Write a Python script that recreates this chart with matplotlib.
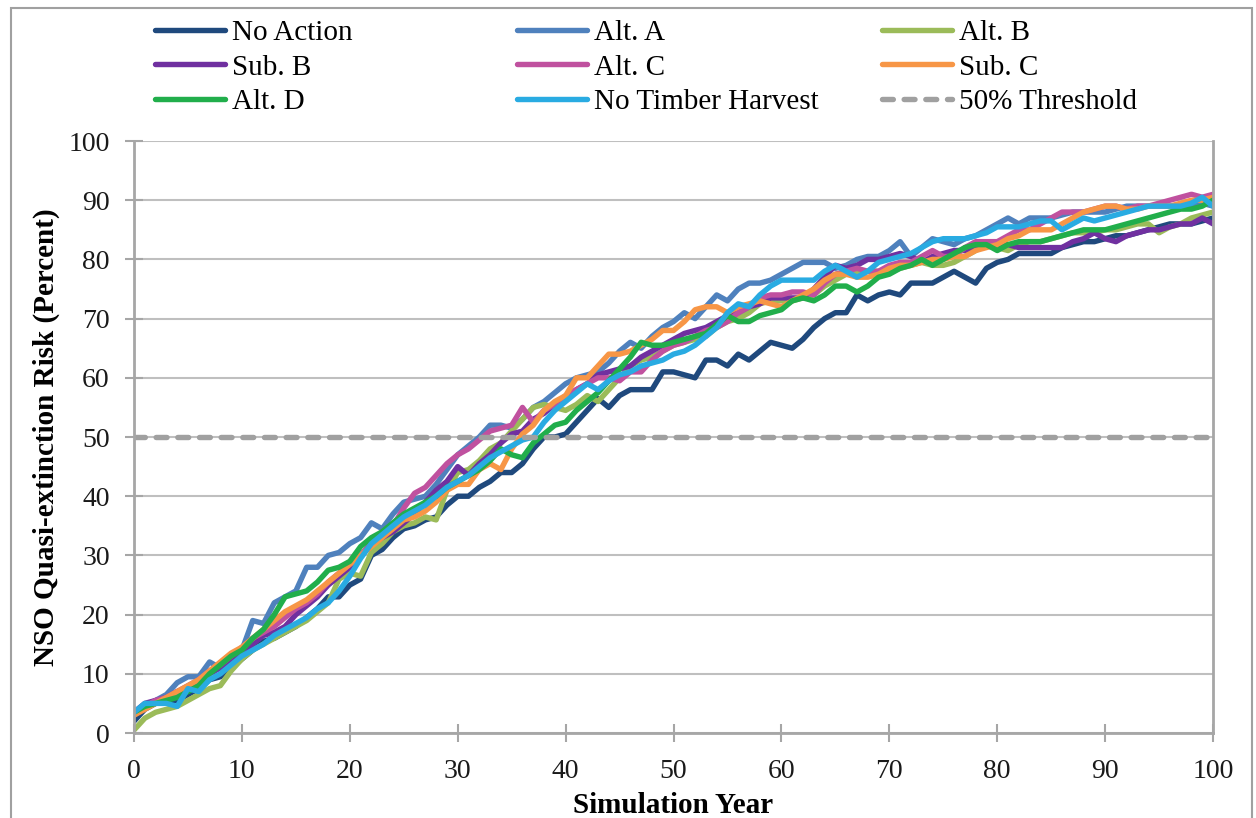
import matplotlib
matplotlib.use("Agg")
import matplotlib.pyplot as plt
from matplotlib.patches import Rectangle
import numpy as np

plt.rcParams['font.family'] = ['Liberation Serif', 'DejaVu Serif']

years = np.arange(0, 101)

no_action = [2, 4, 5, 5.5, 5.5, 6.5, 7.5, 9, 9.5, 11, 12.5, 14, 15.5, 16, 17, 18, 19.5, 21, 23, 23,
             25, 26, 30, 31, 33, 34.5, 35, 36, 36.5, 38.5, 40, 40, 41.5, 42.5, 44, 44, 45.5, 48, 50, 50,
             50.5, 52.5, 54.5, 56.5, 55, 57, 58, 58, 58, 61, 61, 60.5, 60, 63, 63, 62, 64, 63, 64.5, 66,
             65.5, 65, 66.5, 68.5, 70, 71, 71, 74, 73, 74, 74.5, 74, 76, 76, 76, 77, 78, 77, 76, 78.5,
             79.5, 80, 81, 81, 81, 81, 82, 82.5, 83, 83, 83.5, 84, 84, 84.5, 85, 85.5, 86, 86, 86, 86.5,
             87]
alt_a = [3.5, 4.5, 5.5, 6.5, 8.5, 9.5, 9.5, 12, 11, 12, 14, 19, 18.5, 22, 23, 24, 28, 28, 30, 30.5,
         32, 33, 35.5, 34.5, 37, 39, 39.5, 40, 42, 44.5, 47, 48.5, 50, 52, 52, 51.5, 53, 55, 56, 57.5,
         59, 60, 60.5, 61, 62.5, 64.5, 66, 65, 67, 68.5, 69.5, 71, 70, 72, 74, 73, 75, 76, 76, 76.5,
         77.5, 78.5, 79.5, 79.5, 79.5, 78.5, 79, 80, 80.5, 80.5, 81.5, 83, 80.5, 82, 83.5, 83, 82.5, 83.5, 84, 85,
         86, 87, 86, 87, 87, 87, 87.5, 88, 88, 88, 88, 88.5, 89, 89, 89, 89, 89, 89, 89, 89.5,
         89]
alt_b = [0.5, 2.5, 3.5, 4, 4.5, 5.5, 6.5, 7.5, 8, 10.5, 12.5, 14, 15, 16, 17, 18, 19, 20.5, 22, 26,
         27, 26.5, 30.5, 32, 34, 35, 35.5, 36.5, 36, 41, 44, 44.5, 46, 48, 49, 51, 53, 55, 55.5, 55,
         54.5, 55.5, 57, 56, 58, 60, 62, 63, 63.5, 64.5, 65.5, 66, 66.5, 67, 68.5, 69.5, 70, 71, 72.5, 73,
         73, 73, 73.5, 74, 75.5, 76.5, 77.5, 78, 78, 78, 78, 78.5, 79, 79.5, 79, 79, 79.5, 80.5, 81.5, 82.5,
         82, 81.5, 82.5, 83, 83, 83.5, 84, 84.5, 84.5, 84.5, 85, 85, 85.5, 86, 86, 84.5, 85.5, 86, 87, 87.5,
         88]
sub_b = [3.5, 5, 5.5, 6, 7, 7.5, 8.5, 10, 11, 12.5, 13.5, 15, 16.5, 17, 18, 20, 21.5, 23, 25, 26.5,
         28, 30, 32, 33, 34, 35.5, 37, 39, 41, 42.5, 45, 43.5, 45.5, 47, 49, 50.5, 51, 53, 54, 55.5,
         56.5, 58, 59, 60.5, 61, 61.5, 62, 63.5, 64.5, 65.5, 66.5, 67.5, 68, 68.5, 69.5, 70.5, 71, 72, 72.5, 73.5,
         73.5, 73.5, 73.5, 75, 77, 79, 78.5, 79, 80, 80, 80.5, 81, 80.5, 79.5, 80.5, 81, 81.5, 81.5, 82, 82.5,
         82.5, 82.5, 82, 82, 82, 82, 82, 83, 83.5, 84.5, 83.5, 83, 84, 84.5, 85, 85, 85.5, 86, 86, 87,
         86]
alt_c = [3, 4.5, 5.5, 6, 7, 8, 9, 10.5, 11.5, 13, 14.5, 16, 17, 18, 19.5, 21, 22, 23.5, 25.5, 27,
         28.5, 30, 32, 33.5, 35, 38, 40.5, 41.5, 43.5, 45.5, 47, 48, 49.5, 51, 51.5, 52, 55, 52.5, 54.5, 55.5,
         57, 58, 59, 60, 60, 59.5, 61, 61, 63, 64.5, 65.5, 66, 67, 68, 68.5, 69.5, 71, 72, 73.5, 74,
         74, 74.5, 74.5, 74, 76, 77.5, 78, 78.5, 78, 78, 79, 79.5, 79.5, 80.5, 81.5, 80.5, 80.5, 82, 83, 83,
         83, 84, 85, 85, 86, 87, 88, 88, 88, 88.5, 89, 89, 88.5, 89, 89, 89.5, 90, 90.5, 91, 90.5,
         91]
sub_c = [3, 4, 5, 6, 7, 8, 9, 10.5, 12, 13.5, 14.5, 16, 17.5, 19, 20.5, 21.5, 22.5, 24, 25.5, 27,
         28.5, 30, 31.5, 33, 34.5, 36, 36.5, 37.5, 39, 41, 42, 42, 44.5, 45.5, 44.5, 48, 50.5, 52, 54.5, 56,
         57, 60, 60, 62, 64, 64, 64.5, 65.5, 66.5, 68, 68, 69.5, 71.5, 72, 72, 71, 72, 72.5, 73, 72.5,
         72, 73, 74, 75, 76.5, 77.5, 77.5, 77, 77, 77.5, 78.5, 79, 79, 79.5, 80, 80, 80.5, 80.5, 81.5, 82,
         82.5, 83.5, 84, 85, 85, 85, 86, 87, 88, 88.5, 89, 89, 88.5, 88.5, 89, 89, 89, 89.5, 90, 90,
         90.5]
alt_d = [3.5, 4.5, 5, 5.5, 6, 7, 8, 10, 11.5, 13, 14, 16, 17.5, 20, 23, 23.5, 24, 25.5, 27.5, 28,
         29, 31.5, 33, 34, 35.5, 37, 38, 39, 40, 41.5, 42.5, 43.5, 44.5, 46, 48, 47, 46.5, 49, 50.5, 52,
         52.5, 54.5, 56, 57.5, 59.5, 61.5, 63.5, 66, 65.5, 65.5, 66, 66.5, 67, 67.5, 69, 70.5, 69.5, 69.5, 70.5, 71,
         71.5, 73, 73.5, 73, 74, 75.5, 75.5, 74.5, 75.5, 77, 77.5, 78.5, 79, 80, 79, 80, 81, 82, 82.5, 82.5,
         81.5, 82.5, 83, 83, 83, 83.5, 84, 84.5, 85, 85, 85, 85.5, 86, 86.5, 87, 87.5, 88, 88.5, 88.5, 89,
         90]
no_timber = [3.5, 5, 5, 5, 4.5, 7.5, 7, 9, 10, 11.5, 13, 14, 15, 16.5, 17.5, 18.5, 19.5, 21, 22, 24,
             26.5, 29.5, 32, 33.5, 35, 36.5, 37.5, 38.5, 40, 41.5, 42.5, 43.5, 45, 46.5, 47.5, 48.5, 49.5, 50, 52.5, 54.5,
             56, 57.5, 59, 58, 59.5, 60.5, 61, 62, 62.5, 63, 64, 64.5, 65.5, 67, 68.5, 71, 72.5, 72, 74, 75.5,
             76.5, 76.5, 76.5, 76.5, 78, 79, 78, 77, 78, 79.5, 80, 80.5, 81, 82, 83, 83.5, 83.5, 83.5, 84, 84.5,
             85.5, 85.5, 85.5, 86, 86.5, 86.5, 85, 86, 87, 86.5, 87, 87.5, 88, 88.5, 89, 89, 89, 89, 89.5, 90.5,
             89]
threshold = 50

series = [
    ("No Action", no_action, "#1f497d"),
    ("Alt. A", alt_a, "#4f81bd"),
    ("Alt. B", alt_b, "#9bbb59"),
    ("Sub. B", sub_b, "#7030a0"),
    ("Alt. C", alt_c, "#c0519f"),
    ("Sub. C", sub_c, "#f79646"),
    ("Alt. D", alt_d, "#21ae4b"),
    ("No Timber Harvest", no_timber, "#29abe2"),
]
thr_color = "#a0a0a0"
axis_gray = "#a6a6a6"

fig = plt.figure(figsize=(12.56, 8.18), dpi=100)
ax = fig.add_axes([0.1067, 0.1039, 0.8591, 0.7237])

handles = {}
for name, vals, col in series:
    ln, = ax.plot(years, vals, color=col, lw=3.9, solid_joinstyle='round',
                  solid_capstyle='round', label=name)
    handles[name] = ln
thr, = ax.plot([0, 100], [threshold, threshold], color=thr_color, lw=3.9,
               linestyle=(0, (2.0, 2.0)), dash_capstyle='round', label="50% Threshold")
handles["50% Threshold"] = thr

ax.set_xlim(0, 100)
ax.set_ylim(0, 100)
ax.set_xticks(range(0, 101, 10))
ax.set_yticks(range(0, 101, 10))
ax.yaxis.grid(True, color="#bfbfbf", lw=1.5)
ax.set_axisbelow(True)

for side in ['left', 'bottom', 'right']:
    ax.spines[side].set_color(axis_gray)
    ax.spines[side].set_linewidth(2)
ax.spines['top'].set_visible(False)

ax.tick_params(axis='both', direction='inout', length=13, width=1.5,
               color=axis_gray, labelsize=20, labelcolor='#1a1a1a')
ax.tick_params(axis='y', pad=11)
ax.tick_params(axis='x', pad=12)

ax.set_xlabel("Simulation Year", fontsize=21, fontweight='bold', labelpad=6)
ax.set_ylabel("NSO Quasi-extinction Risk (Percent)", fontsize=21, fontweight='bold', labelpad=6)

# legend laid out row-wise in three separate columns
columns = [
    (["No Action", "Sub. B", "Alt. D"], 155),
    (["Alt. A", "Alt. C", "No Timber Harvest"], 517),
    (["Alt. B", "Sub. C", "50% Threshold"], 882),
]
for names, xpx in columns:
    fig.legend([handles[n] for n in names], names, loc='upper left',
               bbox_to_anchor=(xpx / 1256, 1 - 20 / 818), frameon=False,
               fontsize=21, handlelength=2.4, handletextpad=0.25,
               labelspacing=0.27, borderpad=0, borderaxespad=0)

fig.patches.append(Rectangle((0.009, -0.02), 0.988, 1.0102, transform=fig.transFigure,
                             fill=False, edgecolor="#a0a0a0", lw=1.5))

fig.savefig("out.png", dpi=100)
